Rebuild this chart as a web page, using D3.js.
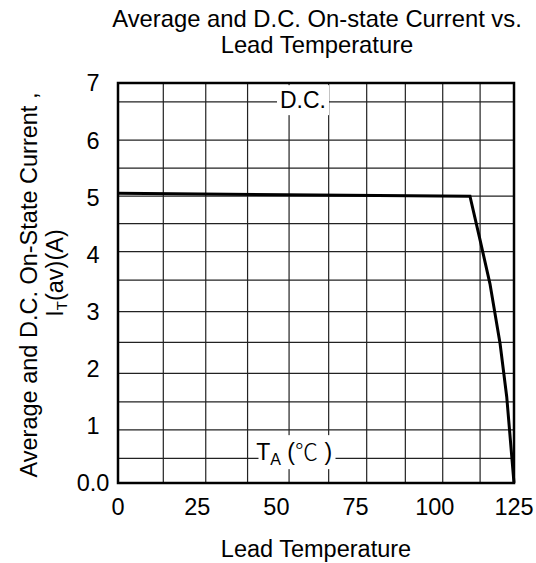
<!DOCTYPE html>
<html>
<head>
<meta charset="utf-8">
<script src="https://cdn.jsdelivr.net/npm/d3@7"></script>
<style>
    body { margin: 0; background: #fff; }
    svg text { font-family: "Liberation Sans", Arial, sans-serif; fill: #000; }
</style>
</head>
<body>
<div id="chart"></div>
<script>
// Data kurva (suhu lead dalam C, arus dalam A)
var temps = [0, 111.1, 114.3, 117.4, 120.6, 122.7, 125];
var currents = [5.07, 5.02, 4.25, 3.49, 2.44, 1.51, 0];

// Label sumbu
var xTicks = [0, 25, 50, 75, 100, 125];
var yTicks = [0, 1, 2, 3, 4, 5, 6, 7];
var yTickLabels = ["0.0", "1", "2", "3", "4", "5", "6", "7"];

// Garis grid (jaraknya tidak rata)
var gridX = [14.3, 27.7, 40.9, 54.0, 66.5, 78.5, 90.7, 102.5, 114.3];
var gridY = [0.43, 0.93, 1.42, 1.92, 2.46, 3.0, 3.55, 4.05, 4.54, 5.02, 5.51, 6.0, 6.67];

var width = 536;
var height = 563;
var plotLeft = 118, plotRight = 514, plotTop = 83, plotBottom = 483;

var x = d3.scaleLinear().domain([0, 125]).range([plotLeft, plotRight]);
var y = d3.scaleLinear().domain([0, 7]).range([plotBottom, plotTop]);

var svg = d3.select("#chart")
    .append("svg")
    .attr("width", width)
    .attr("height", height);

// Grid vertikal
svg.selectAll(".gx")
    .data(gridX)
    .enter()
    .append("line")
    .attr("x1", function(d) { return x(d); })
    .attr("x2", function(d) { return x(d); })
    .attr("y1", plotTop)
    .attr("y2", plotBottom)
    .attr("stroke", "#222")
    .attr("stroke-width", 1.2);

// Grid horizontal
svg.selectAll(".gy")
    .data(gridY)
    .enter()
    .append("line")
    .attr("x1", plotLeft)
    .attr("x2", plotRight)
    .attr("y1", function(d) { return y(d); })
    .attr("y2", function(d) { return y(d); })
    .attr("stroke", "#222")
    .attr("stroke-width", 1.2);

// Label di dalam grafik (dengan latar putih)
function boxLabel(cx, cy, w, h) {
    svg.append("rect")
        .attr("x", x(cx) - w / 2)
        .attr("y", y(cy) - h / 2)
        .attr("width", w)
        .attr("height", h)
        .attr("fill", "#fff");
}
boxLabel(58.4, 6.7, 52, 30);
boxLabel(56.5, 0.54, 77, 34);

svg.append("text")
    .attr("x", x(58.4))
    .attr("y", y(6.7))
    .attr("dy", "0.36em")
    .attr("text-anchor", "middle")
    .style("font-size", "23px")
    .text("D.C.");

var ta = svg.append("text")
    .attr("x", x(55.6))
    .attr("y", y(0.54))
    .attr("dy", "0.36em")
    .attr("text-anchor", "middle")
    .style("font-size", "23px");
ta.append("tspan").text("T");
ta.append("tspan").attr("dy", 5).style("font-size", "16px").text("A");
ta.append("tspan").attr("dy", -5).text(" (");
ta.append("tspan").style("font-family", "'Noto Sans CJK SC', sans-serif").style("font-weight", 300).text("\u2103");
ta.append("tspan").text(" )");

// Kotak sumbu
svg.append("rect")
    .attr("x", plotLeft)
    .attr("y", plotTop)
    .attr("width", plotRight - plotLeft)
    .attr("height", plotBottom - plotTop)
    .attr("fill", "none")
    .attr("stroke", "#000")
    .attr("stroke-width", 2.5);

// Kurva arus
var pts = temps.map(function(t, i) { return [t, currents[i]]; });
var line = d3.line()
    .x(function(d) { return x(d[0]); })
    .y(function(d) { return y(d[1]); });

svg.append("path")
    .datum(pts)
    .attr("d", line)
    .attr("fill", "none")
    .attr("stroke", "#000")
    .attr("stroke-width", 3)
    .attr("stroke-linejoin", "miter");

// Label sumbu x
svg.selectAll(".xt")
    .data(xTicks)
    .enter()
    .append("text")
    .attr("x", function(d) { return x(d); })
    .attr("y", 515)
    .attr("text-anchor", "middle")
    .style("font-size", "23.5px")
    .text(function(d) { return d; });

// Label sumbu y
svg.selectAll(".yt")
    .data(yTicks)
    .enter()
    .append("text")
    .attr("x", 93)
    .attr("y", function(d) { return y(d); })
    .attr("dy", "0.36em")
    .attr("text-anchor", "middle")
    .style("font-size", "23.5px")
    .text(function(d, i) { return yTickLabels[i]; });

// Judul grafik
svg.append("text")
    .attr("x", 317)
    .attr("y", 27)
    .attr("text-anchor", "middle")
    .style("font-size", "23.8px")
    .text("Average and D.C. On-state Current vs.");
svg.append("text")
    .attr("x", 317)
    .attr("y", 53)
    .attr("text-anchor", "middle")
    .style("font-size", "23.8px")
    .text("Lead Temperature");

// Judul sumbu x
svg.append("text")
    .attr("x", 316)
    .attr("y", 557)
    .attr("text-anchor", "middle")
    .style("font-size", "23.5px")
    .text("Lead Temperature");

// Judul sumbu y (dua baris)
svg.append("text")
    .attr("transform", "translate(37,285) rotate(-90)")
    .attr("text-anchor", "middle")
    .style("font-size", "23.5px")
    .text("Average and D.C. On-State Current ,");

var yl = svg.append("text")
    .attr("transform", "translate(63,273) rotate(-90)")
    .attr("text-anchor", "middle")
    .style("font-size", "23.5px");
yl.append("tspan").text("I");
yl.append("tspan").attr("dy", 4).style("font-size", "15px").text("T");
yl.append("tspan").attr("dy", -4).text("(av)(A)");
</script>
</body>
</html>
